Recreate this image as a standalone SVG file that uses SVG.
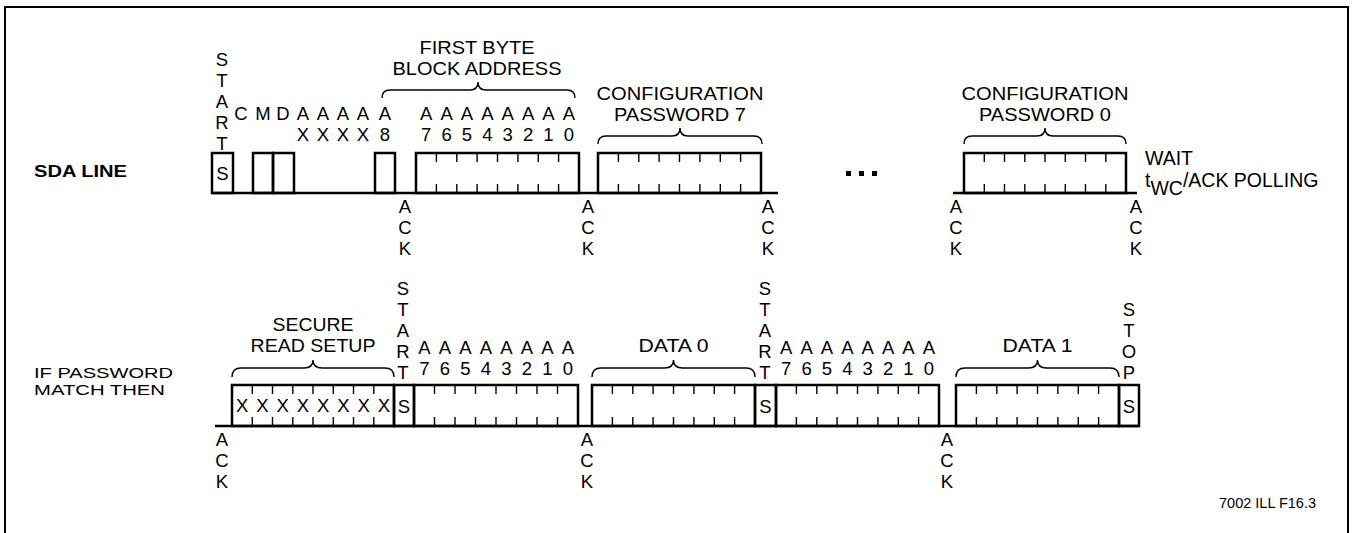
<svg xmlns="http://www.w3.org/2000/svg" width="1352" height="533" viewBox="0 0 1352 533">
<style>
text{font-family:"Liberation Sans",Arial,sans-serif;fill:#000}
.t{font-size:18.5px;text-anchor:middle}
.l{font-size:18.5px;text-anchor:start}
.b{font-weight:bold}
.box{fill:none;stroke:#000;stroke-width:2.5}
.wire{fill:none;stroke:#000;stroke-width:2.5}
.tick{stroke:#000;stroke-width:1.4}
.brace{fill:none;stroke:#000;stroke-width:1.4}
</style>
<rect x="5" y="7" width="1343" height="540" fill="#fff" stroke="#000" stroke-width="2"/>

<g id="labels">
<text class="l b" x="34" y="177" textLength="93" lengthAdjust="spacingAndGlyphs" style="font-size:16px">SDA LINE</text>
<text class="l" x="34" y="377.6" textLength="139" lengthAdjust="spacingAndGlyphs" style="font-size:15.5px">IF PASSWORD</text>
<text class="l" x="34" y="395" textLength="131" lengthAdjust="spacingAndGlyphs" style="font-size:15.5px">MATCH THEN</text>
<text class="l" x="1219" y="508" style="font-size:14.5px">7002 ILL F16.3</text>
</g>

<g id="connectors">
<path class="wire" d="M212,193 H778"/>
<path class="wire" d="M953,193 H1137"/>
<path class="wire" d="M215,426 H1139"/>
</g>

<!-- TOP ROW -->
<g id="top-start">
<text class="t"><tspan x="222" y="66">S</tspan><tspan x="222" y="87">T</tspan><tspan x="222" y="108">A</tspan><tspan x="222" y="129">R</tspan><tspan x="222" y="150">T</tspan></text>
<rect class="box" x="212" y="153" width="21" height="40"/>
<text class="t" x="222.5" y="180">S</text>
</g>
<g id="top-cmd">
<text class="t" x="241" y="120">C</text>
<text class="t" x="263" y="120">M</text>
<text class="t" x="283" y="120">D</text>
<rect class="box" x="253" y="153" width="20" height="40"/>
<rect class="box" x="273" y="153" width="21" height="40"/>
<text class="t"><tspan x="303" y="120">A</tspan><tspan x="303" y="141">X</tspan></text>
<text class="t"><tspan x="323" y="120">A</tspan><tspan x="323" y="141">X</tspan></text>
<text class="t"><tspan x="343" y="120">A</tspan><tspan x="343" y="141">X</tspan></text>
<text class="t"><tspan x="363" y="120">A</tspan><tspan x="363" y="141">X</tspan></text>
<text class="t"><tspan x="385" y="120">A</tspan><tspan x="385" y="141">8</tspan></text>
<rect class="box" x="375" y="153" width="20" height="40"/>
</g>
<g id="top-first-byte">
<text class="t"><tspan x="477" y="54" textLength="115" lengthAdjust="spacingAndGlyphs">FIRST BYTE</tspan><tspan x="477" y="75" textLength="169" lengthAdjust="spacingAndGlyphs">BLOCK ADDRESS</tspan></text>
<path class="brace" d="M382,98 Q382,90 390,90 H470 Q478,90 478,82 Q478,90 486,90 H567 Q575,90 575,98"/>
<text class="t"><tspan x="426.2" y="120">A</tspan><tspan x="426.2" y="141">7</tspan></text>
<text class="t"><tspan x="446.6" y="120">A</tspan><tspan x="446.6" y="141">6</tspan></text>
<text class="t"><tspan x="467" y="120">A</tspan><tspan x="467" y="141">5</tspan></text>
<text class="t"><tspan x="487.3" y="120">A</tspan><tspan x="487.3" y="141">4</tspan></text>
<text class="t"><tspan x="507.7" y="120">A</tspan><tspan x="507.7" y="141">3</tspan></text>
<text class="t"><tspan x="528.1" y="120">A</tspan><tspan x="528.1" y="141">2</tspan></text>
<text class="t"><tspan x="548.5" y="120">A</tspan><tspan x="548.5" y="141">1</tspan></text>
<text class="t"><tspan x="568.8" y="120">A</tspan><tspan x="568.8" y="141">0</tspan></text>
<rect class="box" x="416" y="153" width="163" height="40"/>
<path class="tick" d="M436.4,153V162M456.8,153V162M477.1,153V162M497.5,153V162M517.9,153V162M538.3,153V162M558.6,153V162M436.4,184V193M456.8,184V193M477.1,184V193M497.5,184V193M517.9,184V193M538.3,184V193M558.6,184V193"/>
</g>
<g id="top-config7">
<text class="t"><tspan x="680" y="100" textLength="167" lengthAdjust="spacingAndGlyphs">CONFIGURATION</tspan><tspan x="680" y="121" textLength="132" lengthAdjust="spacingAndGlyphs">PASSWORD 7</tspan></text>
<path class="brace" d="M598,144 Q598,136 606,136 H672 Q680,136 680,128 Q680,136 688,136 H754 Q762,136 762,144"/>
<rect class="box" x="598" y="153" width="163" height="40"/>
<path class="tick" d="M618.4,153V162M638.8,153V162M659.1,153V162M679.5,153V162M699.9,153V162M720.3,153V162M740.6,153V162M618.4,184V193M638.8,184V193M659.1,184V193M679.5,184V193M699.9,184V193M720.3,184V193M740.6,184V193"/>
</g>
<g id="top-ellipsis">
<rect x="846" y="171" width="5" height="5"/>
<rect x="859" y="171" width="5" height="5"/>
<rect x="872" y="171" width="5" height="5"/>
</g>
<g id="top-config0">
<text class="t"><tspan x="1045" y="100" textLength="167" lengthAdjust="spacingAndGlyphs">CONFIGURATION</tspan><tspan x="1045" y="121" textLength="132" lengthAdjust="spacingAndGlyphs">PASSWORD 0</tspan></text>
<path class="brace" d="M964,144 Q964,136 972,136 H1037 Q1045,136 1045,128 Q1045,136 1053,136 H1118 Q1126,136 1126,144"/>
<rect class="box" x="964" y="153" width="162" height="40"/>
<path class="tick" d="M984.3,153V162M1004.5,153V162M1024.8,153V162M1045,153V162M1065.3,153V162M1085.5,153V162M1105.8,153V162M984.3,184V193M1004.5,184V193M1024.8,184V193M1045,184V193M1065.3,184V193M1085.5,184V193M1105.8,184V193"/>
</g>
<g id="top-wait">
<text class="l" style="font-size:19.5px"><tspan x="1145" y="165">WAIT</tspan><tspan x="1145" y="187">t</tspan><tspan dy="8">WC</tspan><tspan dy="-8">/ACK POLLING</tspan></text>
</g>
<g id="top-acks">
<text class="t"><tspan x="405" y="212.5">A</tspan><tspan x="405" y="233.5">C</tspan><tspan x="405" y="254.5">K</tspan></text>
<text class="t"><tspan x="588" y="212.5">A</tspan><tspan x="588" y="233.5">C</tspan><tspan x="588" y="254.5">K</tspan></text>
<text class="t"><tspan x="768" y="212.5">A</tspan><tspan x="768" y="233.5">C</tspan><tspan x="768" y="254.5">K</tspan></text>
<text class="t"><tspan x="956" y="212.5">A</tspan><tspan x="956" y="233.5">C</tspan><tspan x="956" y="254.5">K</tspan></text>
<text class="t"><tspan x="1136" y="212.5">A</tspan><tspan x="1136" y="233.5">C</tspan><tspan x="1136" y="254.5">K</tspan></text>
</g>

<!-- BOTTOM ROW -->
<g id="bot-secure-read">
<text class="t"><tspan x="313" y="331" textLength="81" lengthAdjust="spacingAndGlyphs">SECURE</tspan><tspan x="313" y="352" textLength="125" lengthAdjust="spacingAndGlyphs">READ SETUP</tspan></text>
<path class="brace" d="M232,377 Q232,368 241,368 H304 Q313,368 313,360 Q313,368 322,368 H385 Q394,368 394,377"/>
<rect class="box" x="232" y="385" width="162" height="41"/>
<path class="tick" d="M252.3,385V394M272.5,385V394M292.8,385V394M313,385V394M333.3,385V394M353.5,385V394M373.8,385V394M252.3,417V426M272.5,417V426M292.8,417V426M313,417V426M333.3,417V426M353.5,417V426M373.8,417V426"/>
<text class="t" x="242.1" y="412">X</text>
<text class="t" x="262.4" y="412">X</text>
<text class="t" x="282.6" y="412">X</text>
<text class="t" x="302.9" y="412">X</text>
<text class="t" x="323.1" y="412">X</text>
<text class="t" x="343.4" y="412">X</text>
<text class="t" x="363.6" y="412">X</text>
<text class="t" x="383.9" y="412">X</text>
</g>
<g id="bot-start1">
<text class="t"><tspan x="403" y="295">S</tspan><tspan x="403" y="316">T</tspan><tspan x="403" y="337">A</tspan><tspan x="403" y="358">R</tspan><tspan x="403" y="379">T</tspan></text>
<rect class="box" x="394" y="385" width="20" height="41"/>
<text class="t" x="404" y="412.5">S</text>
</g>
<g id="bot-addr1">
<text class="t"><tspan x="424.3" y="354">A</tspan><tspan x="424.3" y="375">7</tspan></text>
<text class="t"><tspan x="444.8" y="354">A</tspan><tspan x="444.8" y="375">6</tspan></text>
<text class="t"><tspan x="465.3" y="354">A</tspan><tspan x="465.3" y="375">5</tspan></text>
<text class="t"><tspan x="485.8" y="354">A</tspan><tspan x="485.8" y="375">4</tspan></text>
<text class="t"><tspan x="506.3" y="354">A</tspan><tspan x="506.3" y="375">3</tspan></text>
<text class="t"><tspan x="526.8" y="354">A</tspan><tspan x="526.8" y="375">2</tspan></text>
<text class="t"><tspan x="547.3" y="354">A</tspan><tspan x="547.3" y="375">1</tspan></text>
<text class="t"><tspan x="567.8" y="354">A</tspan><tspan x="567.8" y="375">0</tspan></text>
<rect class="box" x="414" y="385" width="164" height="41"/>
<path class="tick" d="M434.5,385V394M455,385V394M475.5,385V394M496,385V394M516.5,385V394M537,385V394M557.5,385V394M434.5,417V426M455,417V426M475.5,417V426M496,417V426M516.5,417V426M537,417V426M557.5,417V426"/>
</g>
<g id="bot-data0">
<text class="t" x="673.5" y="352" textLength="70" lengthAdjust="spacingAndGlyphs">DATA 0</text>
<path class="brace" d="M592,377 Q592,368 601,368 H664.5 Q673.5,368 673.5,360 Q673.5,368 682.5,368 H746 Q755,368 755,377"/>
<rect class="box" x="592" y="385" width="163" height="41"/>
<path class="tick" d="M612.4,385V394M632.8,385V394M653.1,385V394M673.5,385V394M693.9,385V394M714.3,385V394M734.6,385V394M612.4,417V426M632.8,417V426M653.1,417V426M673.5,417V426M693.9,417V426M714.3,417V426M734.6,417V426"/>
</g>
<g id="bot-start2">
<text class="t"><tspan x="765" y="295">S</tspan><tspan x="765" y="316">T</tspan><tspan x="765" y="337">A</tspan><tspan x="765" y="358">R</tspan><tspan x="765" y="379">T</tspan></text>
<rect class="box" x="755" y="385" width="21" height="41"/>
<text class="t" x="765.5" y="412.5">S</text>
</g>
<g id="bot-addr2">
<text class="t"><tspan x="786.2" y="354">A</tspan><tspan x="786.2" y="375">7</tspan></text>
<text class="t"><tspan x="806.6" y="354">A</tspan><tspan x="806.6" y="375">6</tspan></text>
<text class="t"><tspan x="827" y="354">A</tspan><tspan x="827" y="375">5</tspan></text>
<text class="t"><tspan x="847.3" y="354">A</tspan><tspan x="847.3" y="375">4</tspan></text>
<text class="t"><tspan x="867.7" y="354">A</tspan><tspan x="867.7" y="375">3</tspan></text>
<text class="t"><tspan x="888.1" y="354">A</tspan><tspan x="888.1" y="375">2</tspan></text>
<text class="t"><tspan x="908.5" y="354">A</tspan><tspan x="908.5" y="375">1</tspan></text>
<text class="t"><tspan x="928.8" y="354">A</tspan><tspan x="928.8" y="375">0</tspan></text>
<rect class="box" x="776" y="385" width="163" height="41"/>
<path class="tick" d="M796.4,385V394M816.8,385V394M837.1,385V394M857.5,385V394M877.9,385V394M898.3,385V394M918.6,385V394M796.4,417V426M816.8,417V426M837.1,417V426M857.5,417V426M877.9,417V426M898.3,417V426M918.6,417V426"/>
</g>
<g id="bot-data1">
<text class="t" x="1037.5" y="352" textLength="70" lengthAdjust="spacingAndGlyphs">DATA 1</text>
<path class="brace" d="M956,377 Q956,368 965,368 H1028.5 Q1037.5,368 1037.5,360 Q1037.5,368 1046.5,368 H1110 Q1119,368 1119,377"/>
<rect class="box" x="956" y="385" width="163" height="41"/>
<path class="tick" d="M976.4,385V394M996.8,385V394M1017.1,385V394M1037.5,385V394M1057.9,385V394M1078.3,385V394M1098.6,385V394M976.4,417V426M996.8,417V426M1017.1,417V426M1037.5,417V426M1057.9,417V426M1078.3,417V426M1098.6,417V426"/>
</g>
<g id="bot-stop">
<text class="t"><tspan x="1129" y="316">S</tspan><tspan x="1129" y="337">T</tspan><tspan x="1129" y="358">O</tspan><tspan x="1129" y="379">P</tspan></text>
<rect class="box" x="1119" y="385" width="20" height="41"/>
<text class="t" x="1129" y="412.5">S</text>
</g>
<g id="bot-acks">
<text class="t"><tspan x="222" y="446">A</tspan><tspan x="222" y="467">C</tspan><tspan x="222" y="488">K</tspan></text>
<text class="t"><tspan x="587" y="446">A</tspan><tspan x="587" y="467">C</tspan><tspan x="587" y="488">K</tspan></text>
<text class="t"><tspan x="947" y="446">A</tspan><tspan x="947" y="467">C</tspan><tspan x="947" y="488">K</tspan></text>
</g>
</svg>
